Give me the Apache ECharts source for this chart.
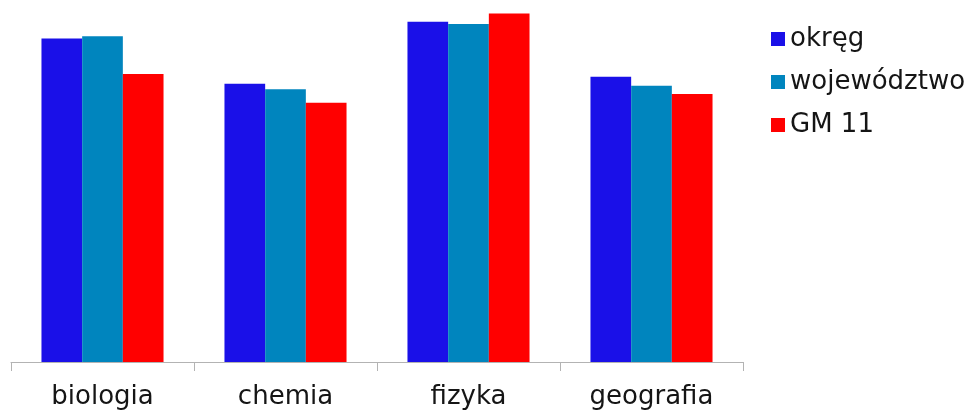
<!DOCTYPE html>
<html>
<head>
<meta charset="utf-8">
<script src="https://cdn.jsdelivr.net/npm/echarts@6/dist/echarts.min.js"></script>
<style>html,body{margin:0;padding:0;background:#fff}#c{width:972px;height:414px}</style>
</head>
<body>
<div id="c"></div>
<script>
const categories = ['biologia', 'chemia', 'fizyka', 'geografia'];
const seriesNames = ['okręg', 'województwo', 'GM 11'];
const okreg = [92.4, 79.5, 97.2, 81.5];
const wojewodztwo = [93.1, 77.9, 96.6, 78.9];
const gm11 = [82.3, 74.1, 99.6, 76.6];
const colors = ['#1A10E8', '#0085BE', '#FF0000'];

const chart = echarts.init(document.getElementById('c'), null, {renderer: 'canvas'});
const font = 'DejaVu Sans';
chart.setOption({
  animation: false,
  backgroundColor: '#ffffff',
  grid: {left: 11, width: 732, top: 12, bottom: 52, containLabel: false},
  legend: {
    orient: 'vertical',
    left: 766,
    top: 21,
    itemWidth: 14,
    itemHeight: 14,
    itemGap: 17,
    icon: 'rect',
    data: seriesNames,
    textStyle: {fontFamily: font, fontSize: 26, color: '#151515'}
  },
  xAxis: {
    type: 'category',
    data: categories,
    boundaryGap: true,
    axisLine: {show: true, lineStyle: {color: '#b3b3b3', width: 1}},
    axisTick: {show: true, length: 9, lineStyle: {color: '#b3b3b3'}},
    axisLabel: {fontFamily: font, fontSize: 26, color: '#151515', margin: 22}
  },
  yAxis: {
    type: 'value',
    min: 0,
    max: 100,
    show: false,
    splitLine: {show: false}
  },
  series: [
    {name: seriesNames[0], type: 'bar', data: okreg, itemStyle: {color: colors[0]}, barGap: '0%', barCategoryGap: '33.3%'},
    {name: seriesNames[1], type: 'bar', data: wojewodztwo, itemStyle: {color: colors[1]}, barGap: '0%', barCategoryGap: '33.3%'},
    {name: seriesNames[2], type: 'bar', data: gm11, itemStyle: {color: colors[2]}, barGap: '0%', barCategoryGap: '33.3%'}
  ]
});
</script>
</body>
</html>
